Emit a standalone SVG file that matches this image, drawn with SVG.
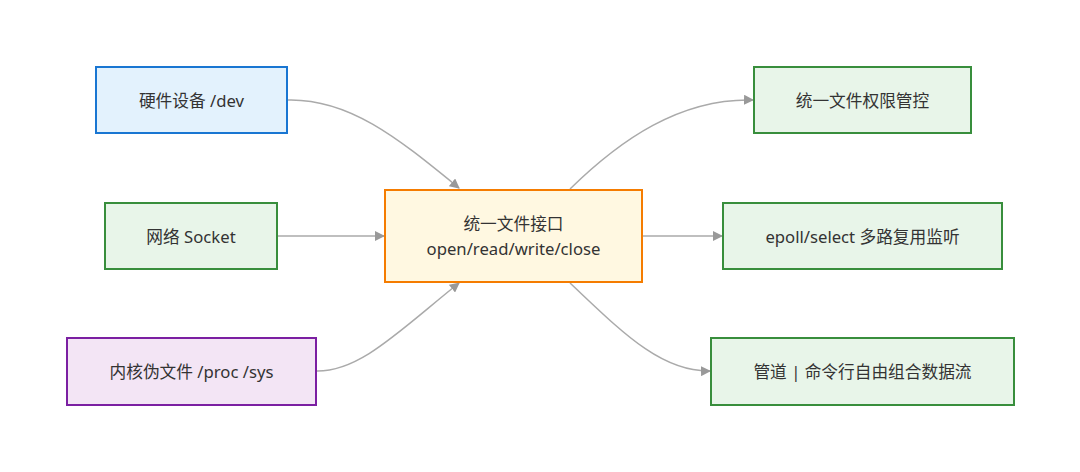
<svg xmlns="http://www.w3.org/2000/svg" width="1080" height="472" viewBox="0 0 1080 472">
<style>
.n rect{stroke-width:2}
.t{font-family:"Noto Sans","Noto Sans CJK SC",sans-serif;font-size:16.7px;fill:#333;text-anchor:middle;dominant-baseline:central}
.blue rect{fill:#e3f2fd;stroke:#1976d2}
.green rect{fill:#e8f5e9;stroke:#388e3c}
.purple rect{fill:#f3e5f5;stroke:#7b1fa2}
.orange rect{fill:#fff8e1;stroke:#f57c00}
.e path{fill:none;stroke:#aaa;stroke-width:1.5;marker-end:url(#arr)}
</style>
<defs>
<marker id="arr" viewBox="0 0 10 10" refX="9" refY="5" markerWidth="10" markerHeight="10" markerUnits="userSpaceOnUse" orient="auto">
<path d="M0,0 L10,5 L0,10 z" fill="#999"/>
</marker>
</defs>
<rect width="1080" height="472" fill="#fff"/>
<g id="edges" class="e">
<path d="M287,100 C350,98 400,140 459,188"/>
<path d="M277,236 L384,236"/>
<path d="M316,371 C360,372 400,330 459,283"/>
<path d="M570,189 C620,140 680,98 753,100"/>
<path d="M642,236 L722,236"/>
<path d="M570,283 C620,330 660,372 710,371"/>
</g>
<g id="n1" class="n blue"><rect x="96" y="67" width="191" height="66"/><text class="t" x="191.5" y="100">硬件设备 /dev</text></g>
<g id="n2" class="n green"><rect x="105" y="203" width="172" height="66"/><text class="t" x="191" y="236">网络 Socket</text></g>
<g id="n3" class="n purple"><rect x="67" y="338" width="249" height="67"/><text class="t" x="191.5" y="371.5">内核伪文件 /proc /sys</text></g>
<g id="center" class="n orange"><rect x="385" y="190" width="257" height="92"/><text class="t" x="513.5" y="223">统一文件接口</text><text class="t" x="513.5" y="248">open/read/write/close</text></g>
<g id="r1" class="n green"><rect x="754" y="67" width="217" height="66"/><text class="t" x="862.5" y="100">统一文件权限管控</text></g>
<g id="r2" class="n green"><rect x="723" y="203" width="279" height="66"/><text class="t" x="862.5" y="236">epoll/select 多路复用监听</text></g>
<g id="r3" class="n green"><rect x="711" y="338" width="303" height="67"/><text class="t" x="862.5" y="371.5">管道 | 命令行自由组合数据流</text></g>
</svg>
